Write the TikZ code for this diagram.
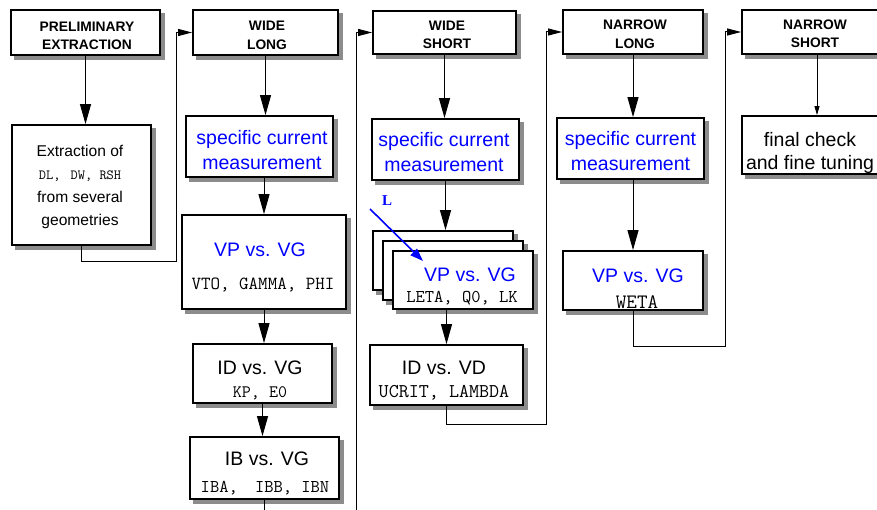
\documentclass[tikz,border=0pt]{standalone}
\usepackage{fontspec}
\setmainfont{Liberation Sans}
\newfontfamily\lserif{Liberation Serif}
\usetikzlibrary{arrows.meta}
% #1 name, #2 centre x, #3 centre y, #4 width, #5 height
\newcommand\mkbox[5]{%
  \fill[shadowc] (#2-#4/2+2.6,#3-#5/2+2.6) rectangle (#2+#4/2+4.6,#3+#5/2+4.6);
  \node[box, minimum width=#4pt, minimum height=#5pt] (#1) at (#2,#3) {};}
\begin{document}
\begin{tikzpicture}[x=1pt,y=-1pt,
  shadowc/.style={fill=black!45},
  box/.style={draw, line width=1.8pt, fill=white, inner sep=0pt},
  hdrt/.style={align=center, inner sep=0pt, font=\fontsize{13.8}{18.5}\selectfont\bfseries},
  maint/.style={align=center, inner sep=0pt, font=\fontsize{19.5}{25}\selectfont},
  bluet/.style={maint, text=blue},
  arr/.style={line width=1pt, -{Triangle[length=20pt,width=11pt]}},
  fb/.style={line width=1pt, -{Triangle[length=14pt,width=7pt]}},
  sarr/.style={line width=1pt, -{Triangle[length=9pt,width=5pt]}},
  line/.style={line width=1pt}
]
\useasboundingbox (0,0) rectangle (877,510);

% ---- column 0
\mkbox{pre}{85.5}{32.5}{149}{45}
\node[hdrt] (pre-t) at (87,36) {PRELIMINARY\\EXTRACTION};
\mkbox{ext}{81.5}{185}{139}{120}
\node[align=center, inner sep=0pt, font=\fontsize{15.6}{23}\selectfont] (ext-t) at (80,187)
  {Extraction of\\{\ttfamily\fontsize{14}{14}\selectfont DL,\hspace{3pt} DW, RSH}\\from several\\geometries};

% ---- column 1
\mkbox{wl}{265.5}{32.5}{145}{45}
\node[hdrt] (wl-t) at (267,35.5) {WIDE\\LONG};
\mkbox{sc1}{259.5}{146.5}{147}{61}
\node[bluet] (sc1-t) at (262,150) {specific current\\measurement};
\mkbox{vp1}{264}{262}{164}{94}
\node[bluet] (vp1-a) at (260,250) {VP vs. VG};
\node[inner sep=0pt, font=\ttfamily\fontsize{18.5}{18}\selectfont] (vp1-b) at (263,285) {VTO, GAMMA, PHI};
\mkbox{id1}{262.5}{373.5}{139}{59}
\node[maint] (id1-a) at (260,368) {ID vs. VG};
\node[inner sep=0pt, font=\ttfamily\fontsize{17.5}{18}\selectfont] (id1-b) at (260,393) {KP, E0};
\mkbox{ib1}{264.5}{468}{149}{62}
\node[maint] (ib1-a) at (267,459) {IB vs. VG};
\node[inner sep=0pt, font=\ttfamily\fontsize{18}{18}\selectfont] (ib1-b) at (265,488) {IBA,\hspace{8pt} IBB, IBN};

% ---- column 2
\mkbox{ws}{444.5}{32.5}{143}{43}
\node[hdrt] (ws-t) at (447,35) {WIDE\\SHORT};
\mkbox{sc2}{445.5}{149.5}{147}{61}
\node[bluet] (sc2-t) at (444,152) {specific current\\measurement};
\mkbox{st1}{443}{260.5}{140}{59}
\mkbox{st2}{453}{270.5}{140}{59}
\mkbox{st3}{463}{280}{140}{58}
\node[bluet] (st3-a) at (470,275) {VP vs. VG};
\node[inner sep=0pt, font=\ttfamily\fontsize{18}{18}\selectfont] (st3-b) at (462,298) {LETA, Q0, LK};
\mkbox{idvd}{446.5}{375}{153}{60}
\node[maint] (idvd-a) at (444,368) {ID vs. VD};
\node[inner sep=0pt, font=\ttfamily\fontsize{19.5}{18}\selectfont] (idvd-b) at (444,393) {UCRIT, LAMBDA};

% ---- column 3
\mkbox{nl}{633}{32}{140}{44}
\node[hdrt] (nl-t) at (635,34.5) {NARROW\\LONG};
\mkbox{sc3}{630.5}{148.5}{147}{61}
\node[bluet] (sc3-t) at (630.5,151) {specific current\\measurement};
\mkbox{vp3}{633}{280.5}{140}{59}
\node[bluet] (vp3-a) at (638,276) {VP vs. VG};
\node[inner sep=0pt, font=\ttfamily\fontsize{20.5}{18}\selectfont] (vp3-b) at (637,302) {WETA};

% ---- column 4
\mkbox{ns}{812}{32}{140}{44}
\node[hdrt] (ns-t) at (815,34) {NARROW\\SHORT};
\mkbox{fin}{812}{145}{140}{58}
\node[align=center, inner sep=0pt, font=\fontsize{19.5}{23}\selectfont] (fin-t) at (810,153) {final check\\and fine tuning};

% ---- connectors
\coordinate (k1) at (176,262);
\coordinate (k2) at (264,510);
\coordinate (k3) at (356,510);
\coordinate (k4) at (546,424);
\coordinate (k5) at (725,346);

\draw[arr] (pre.south) -- (pre.south |- ext.north);
\draw[fb] (ext.south) |- (k1) |- (wl.west);
\draw[arr] (wl.south) -- (wl.south |- sc1.north);
\draw[arr] (vp1.north |- sc1.south) -- (vp1.north);
\draw[arr] (vp1.south) -- (vp1.south |- id1.north);
\draw[arr] (id1.south) -- (id1.south |- ib1.north);
\draw[line] (ib1.south) -- (ib1.south |- k2);
\draw[fb] (k3) |- (ws.west);
\draw[arr] (ws.south) -- (ws.south |- sc2.north);
\draw[arr] (sc2.south) -- (sc2.south |- st1.north);
\draw[arr] (idvd.north |- st3.south) -- (idvd.north);
\draw[fb] (idvd.south) |- (k4) |- (nl.west);
\draw[arr] (nl.south) -- (nl.south |- sc3.north);
\draw[arr] (vp3.north |- sc3.south) -- (vp3.north);
\draw[fb] (vp3.south) |- (k5) |- (ns.west);
\draw[sarr] ([xshift=5pt]ns.south) -- ([xshift=5pt]fin.north);

% ---- L arrow
\node[text=blue, inner sep=0pt, font=\lserif\bfseries\fontsize{15}{15}\selectfont] (Llab) at (387,201) {L};
\coordinate (Ls) at (370,209);
\coordinate (Le) at (423,261);
\draw[blue, line width=1.6pt, -{Triangle[length=13pt,width=9pt]}] (Ls) -- (Le);
\end{tikzpicture}
\end{document}
